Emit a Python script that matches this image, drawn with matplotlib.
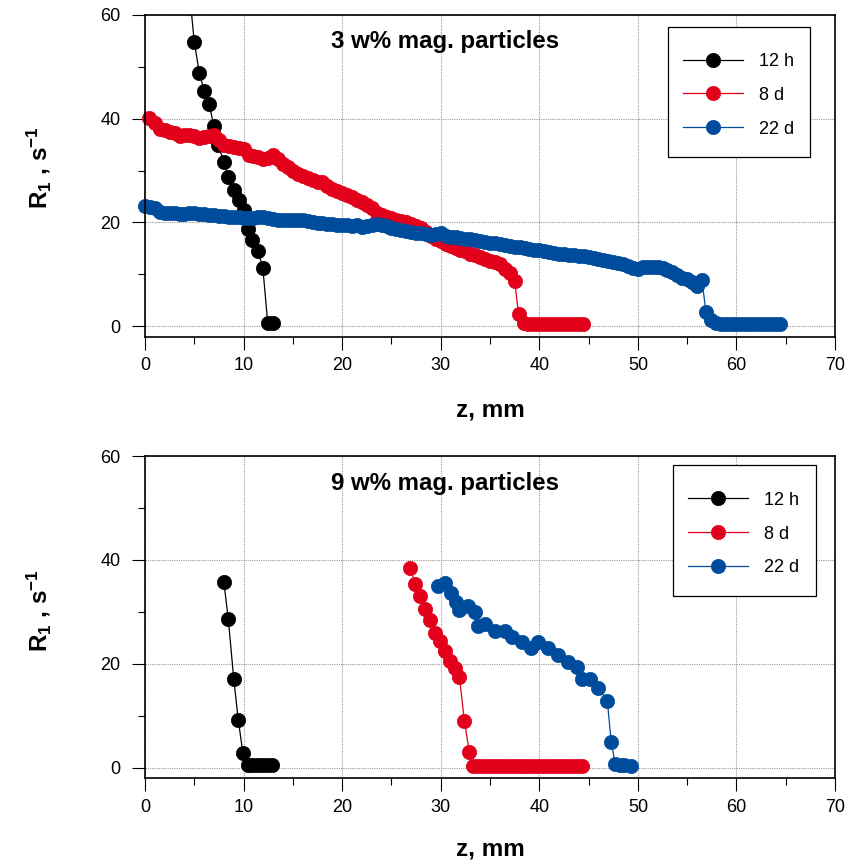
import matplotlib
matplotlib.use('Agg')
import matplotlib.pyplot as plt
from matplotlib.ticker import MultipleLocator
from matplotlib.patches import Rectangle

plt.rcParams['font.family'] = ['Liberation Sans', 'DejaVu Sans']
plt.rcParams['mathtext.fontset'] = 'custom'
plt.rcParams['mathtext.rm'] = 'Liberation Sans'
plt.rcParams['mathtext.bf'] = 'Liberation Sans:bold'

# ---------------- data: 3 w% ----------------
z_12h_a = [4.5, 5.0, 5.5, 6.0, 6.5, 7.0, 7.4, 8.0, 8.45, 9.0, 9.5, 10.0, 10.4, 10.9,
           11.45, 11.95, 12.45, 12.95]
r_12h_a = [64.5, 54.8, 48.9, 45.4, 42.8, 38.5, 35.0, 31.7, 28.7, 26.3, 24.3, 22.4, 18.8,
           16.7, 14.5, 11.3, 0.6, 0.6]

z_8d_a = [0.4, 1.0, 1.5, 2.0, 2.5, 3.0, 3.5, 4.0, 4.5, 5.0, 5.5, 6.0, 6.5, 7.0, 7.5, 8.0,
          8.5, 9.0, 9.5, 10.0, 10.5, 11.0, 11.5, 12.0, 12.5, 13.0, 13.5, 14.0, 14.5, 15.0,
          15.5, 16.0, 16.5, 17.0, 17.5, 18.0, 18.5, 19.0, 19.5, 20.0, 20.5, 21.0, 21.5,
          22.0, 22.5, 23.0, 23.5, 24.0, 24.5, 25.0, 25.5, 26.0, 26.5, 27.0, 27.5, 28.0,
          28.5, 29.0, 29.5, 30.0, 30.5, 31.0, 31.5, 32.0, 32.5, 33.0, 33.5, 34.0, 34.5,
          35.0, 35.5, 36.0, 36.5, 37.0, 37.5, 37.9, 38.4, 38.9, 39.4, 39.9, 40.4, 40.9,
          41.4, 41.9, 42.4, 42.9, 43.4, 43.9, 44.4]
r_8d_a = [40.2, 39.2, 38.0, 37.8, 37.5, 37.2, 36.6, 36.8, 36.9, 36.6, 36.3, 36.4, 36.7,
          36.9, 35.8, 35.0, 34.7, 34.5, 34.4, 34.2, 33.0, 32.8, 32.6, 32.2, 32.4, 33.0,
          32.2, 31.3, 30.6, 30.0, 29.4, 28.9, 28.5, 28.1, 27.7, 27.8, 27.0, 26.5, 26.1,
          25.7, 25.3, 24.9, 24.4, 23.9, 23.3, 22.7, 21.9, 21.4, 21.0, 20.8, 20.5, 20.3,
          20.0, 19.7, 19.4, 19.0, 18.2, 17.3, 16.8, 16.4, 15.9, 15.4, 15.0, 14.7, 14.4,
          14.0, 13.7, 13.3, 12.9, 12.6, 12.3, 11.9, 11.1, 10.3, 8.7, 2.3, 0.6, 0.5, 0.5,
          0.5, 0.5, 0.5, 0.5, 0.5, 0.5, 0.5, 0.5, 0.5, 0.5]

z_22d_a = [0.0, 0.5, 1.0, 1.5, 2.0, 2.5, 3.0, 3.5, 4.0, 4.5, 5.0, 5.5, 6.0, 6.5, 7.0, 7.5,
           8.0, 8.5, 9.0, 9.5, 10.0, 10.5, 11.0, 11.5, 12.0, 12.5, 13.0, 13.5, 14.0, 14.5,
           15.0, 15.5, 16.0, 16.5, 17.0, 17.5, 18.0, 18.5, 19.0, 19.5, 20.0, 20.5, 21.0,
           21.5, 22.0, 22.5, 23.0, 23.5, 24.0, 24.5, 25.0, 25.5, 26.0, 26.5, 27.0, 27.5,
           28.0, 28.5, 29.0, 29.5, 30.0, 30.5, 31.0, 31.5, 32.0, 32.5, 33.0, 33.5, 34.0,
           34.5, 35.0, 35.5, 36.0, 36.5, 37.0, 37.5, 38.0, 38.5, 39.0, 39.5, 40.0, 40.5,
           41.0, 41.5, 42.0, 42.5, 43.0, 43.5, 44.0, 44.5, 45.0, 45.5, 46.0, 46.5, 47.0,
           47.5, 48.0, 48.5, 49.0, 49.5, 50.0, 50.5, 51.0, 51.5, 52.0, 52.5, 53.0, 53.5,
           54.0, 54.5, 55.0, 55.5, 56.0, 56.5, 56.9, 57.4, 57.9, 58.4, 58.9, 59.4, 59.9,
           60.4, 60.9, 61.4, 61.9, 62.4, 62.9, 63.4, 63.9, 64.4]
r_22d_a = [23.1, 23.0, 22.7, 22.1, 21.9, 21.8, 21.8, 21.7, 21.7, 21.9, 21.8, 21.7, 21.6,
           21.5, 21.4, 21.3, 21.2, 21.1, 21.0, 21.0, 20.9, 20.9, 20.9, 21.0, 21.0, 20.8,
           20.6, 20.5, 20.4, 20.4, 20.5, 20.5, 20.4, 20.3, 20.1, 19.9, 19.8, 19.7, 19.7,
           19.6, 19.6, 19.5, 19.4, 19.5, 19.2, 19.4, 19.6, 19.7, 19.5, 19.3, 18.9, 18.7,
           18.6, 18.4, 18.2, 18.0, 17.9, 17.7, 17.6, 17.8, 17.9, 17.4, 17.2, 17.1, 17.0,
           16.9, 16.8, 16.7, 16.5, 16.3, 16.1, 16.0, 15.8, 15.6, 15.5, 15.3, 15.2, 15.0,
           14.9, 14.7, 14.6, 14.4, 14.3, 14.2, 14.0, 13.9, 13.8, 13.7, 13.6, 13.5, 13.3,
           13.2, 13.0, 12.8, 12.6, 12.4, 12.2, 11.9, 11.6, 11.2, 11.0, 11.4, 11.5, 11.5,
           11.4, 11.2, 10.8, 10.4, 9.8, 9.3, 9.0, 8.5, 7.8, 8.9, 2.8, 1.2, 0.6, 0.5, 0.5,
           0.5, 0.5, 0.5, 0.5, 0.5, 0.5, 0.5, 0.5, 0.5, 0.5, 0.5]

# ---------------- data: 9 w% ----------------
z_12h_b = [8.0, 8.45, 9.0, 9.46, 9.93, 10.4, 10.9, 11.4, 11.9, 12.4, 12.9]
r_12h_b = [35.7, 28.6, 17.1, 9.2, 2.8, 0.6, 0.5, 0.5, 0.5, 0.5, 0.5]

z_8d_b = [26.9, 27.4, 27.9, 28.4, 28.9, 29.4, 29.9, 30.4, 30.9, 31.4, 31.9, 32.4, 32.9,
          33.3, 33.8, 34.3, 34.8, 35.3, 35.8, 36.3, 36.8, 37.3, 37.8, 38.3, 38.8, 39.3,
          39.8, 40.3, 40.8, 41.3, 41.8, 42.3, 42.8, 43.3, 43.8, 44.3]
r_8d_b = [38.5, 35.3, 33.1, 30.5, 28.5, 26.0, 24.3, 22.4, 20.6, 19.2, 17.4, 9.0, 3.0,
          0.3, 0.3, 0.3, 0.3, 0.3, 0.3, 0.3, 0.3, 0.3, 0.3, 0.3, 0.3, 0.3, 0.3, 0.3, 0.3,
          0.3, 0.3, 0.3, 0.3, 0.3, 0.3, 0.3]

z_22d_b = [29.7, 30.4, 31.0, 31.5, 31.9, 32.8, 33.5, 33.8, 34.5, 35.5, 36.5, 37.2, 38.2,
           39.2, 39.9, 40.9, 41.9, 42.9, 43.8, 44.3, 45.1, 46.0, 46.9, 47.3, 47.7, 48.2,
           48.6, 49.3]
r_22d_b = [34.9, 35.6, 33.6, 31.8, 30.4, 31.2, 29.9, 27.3, 27.6, 26.3, 26.3, 25.1, 24.1,
           23.1, 24.1, 23.1, 21.7, 20.3, 19.3, 17.1, 17.1, 15.4, 12.8, 4.9, 0.7, 0.6,
           0.6, 0.4]

labels = ['12 h', '8 d', '22 d']
colors = ['#000000', '#E2001A', '#004C9C']
titles = ['3 w% mag. particles', '9 w% mag. particles']

fig = plt.figure(figsize=(8.48, 8.66), dpi=100)
ax1 = fig.add_axes([0.171, 0.6114, 0.8137, 0.3713])
ax2 = fig.add_axes([0.171, 0.1016, 0.8137, 0.3718])

ylab = r'$\mathbf{R_1}$ , $\mathbf{s^{-1}}$'


def style(ax):
    ax.set_xlim(0, 70)
    ax.set_ylim(-2, 60)
    ax.xaxis.set_major_locator(MultipleLocator(10))
    ax.xaxis.set_minor_locator(MultipleLocator(5))
    ax.yaxis.set_major_locator(MultipleLocator(20))
    ax.yaxis.set_minor_locator(MultipleLocator(10))
    ax.tick_params(which='major', direction='out', length=9.5, width=0.8,
                   labelsize=13, pad=5.5)
    ax.tick_params(axis='y', which='major', pad=8)
    ax.tick_params(which='minor', direction='out', length=5, width=0.8)
    ax.grid(which='major', color='#9a9a9a', linestyle=(0, (1, 1)), linewidth=0.8)
    ax.set_axisbelow(True)
    for s in ax.spines.values():
        s.set_linewidth(1.2)
    ax.set_xlabel('z, mm', fontsize=17.5, fontweight='bold')
    ax.set_ylabel(ylab, fontsize=17.5, fontweight='bold')


datasets = [
    [(z_12h_a, r_12h_a), (z_8d_a, r_8d_a), (z_22d_a, r_22d_a)],
    [(z_12h_b, r_12h_b), (z_8d_b, r_8d_b), (z_22d_b, r_22d_b)],
]

# legend frame boxes (axes coords) and legend content anchors
frames = [(0.758, 0.5583, 0.2058, 0.4044), (0.7652, 0.5652, 0.2072, 0.4068)]
anchors = [(0.754, 0.938), (0.761, 0.945)]

for ax, data, title, fr, an in zip([ax1, ax2], datasets, titles, frames, anchors):
    style(ax)
    for (z, r), c, lab in zip(data, colors, labels):
        ax.plot(z, r, '-', color=c, lw=0.9, marker='o', ms=10.3, mec=c, mew=0.5,
                label=lab, clip_on=(lab == '12 h'))
    ax.text(30.4, 54.8, title, ha='center', va='center', fontsize=17.3, fontweight='bold')
    ax.add_patch(Rectangle((fr[0], fr[1]), fr[2], fr[3], transform=ax.transAxes,
                           facecolor='white', edgecolor='black', lw=0.9, zorder=4.5,
                           clip_on=False))
    ax.legend(loc='upper left', bbox_to_anchor=(an[0], an[1], 0.206, 0.0),
              mode='expand', fontsize=13, numpoints=1, handlelength=3.3,
              handletextpad=0.9, labelspacing=0.93, borderpad=1.0,
              frameon=False, borderaxespad=0)

ax1.yaxis.set_label_coords(-0.133, 0.524)
ax2.yaxis.set_label_coords(-0.133, 0.52)
ax1.xaxis.set_label_coords(0.5, -0.194)
ax2.xaxis.set_label_coords(0.5, -0.186)

fig.savefig('out.png', dpi=100)
